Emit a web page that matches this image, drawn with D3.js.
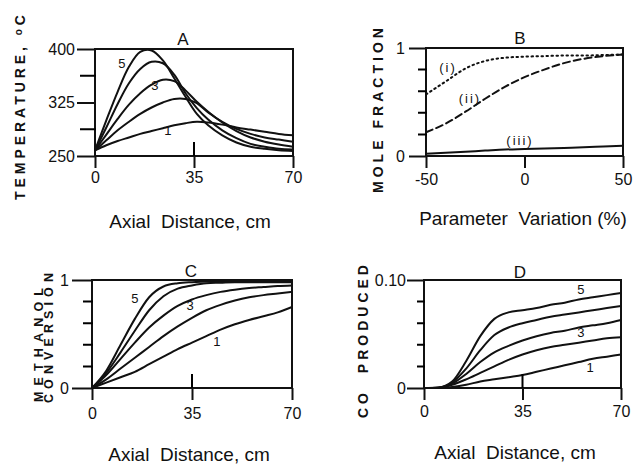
<!DOCTYPE html>
<html>
<head>
<meta charset="utf-8">
<script src="https://cdn.jsdelivr.net/npm/d3@7"></script>
<style>
  body { margin: 0; background: #fff; }
  svg { font-family: "Liberation Sans", Arial, sans-serif; }
  .curve { fill: none; stroke: #111; stroke-width: 2; }
  .frame { fill: none; stroke: #111; stroke-width: 2; }
  .tick line { stroke: #111; stroke-width: 2; }
  .minor { fill: none; stroke: #000; stroke-width: 2; }
  .tick text { font-size: 16px; fill: #111; }
  .title { font-size: 17px; fill: #111; text-anchor: middle; }
  .xlab { font-size: 19px; fill: #111; text-anchor: middle; white-space: pre; }
  .ylab { font-weight: bold; fill: #111; white-space: pre; }
  .note { font-size: 13px; fill: #111; text-anchor: middle; }
</style>
</head>
<body>
<svg id="chart" width="638" height="464"></svg>
<script>
// ---- data ----
var runLabels = ["1", "2", "3", "4", "5"];

// A: temperature vs axial distance
var distA = [0, 4, 8, 12, 16, 20, 24, 28, 32, 36, 40, 45, 50, 55, 60, 65, 70];
var tempRuns = [
  [258, 265, 271, 276, 281, 285, 289, 293, 296, 298, 297, 294, 290, 287, 284, 281, 279],
  [258, 272, 286, 298, 309, 318, 325, 330, 330, 324, 311, 298, 288, 281, 276, 273, 270],
  [258, 280, 302, 322, 338, 350, 357, 355, 342, 326, 312, 297, 285, 276, 270, 266, 263],
  [258, 290, 323, 352, 372, 382, 380, 364, 338, 317, 301, 286, 275, 267, 263, 260, 259],
  [258, 300, 340, 375, 396, 398, 384, 359, 333, 309, 293, 279, 269, 263, 260, 258, 257]
];

// B: mole fraction vs parameter variation
var varB = [-50, -40, -30, -20, -10, 0, 10, 20, 30, 40, 50];
var moleI   = [0.57, 0.69, 0.81, 0.88, 0.91, 0.92, 0.925, 0.93, 0.93, 0.935, 0.94];
var moleII  = [0.22, 0.30, 0.41, 0.53, 0.64, 0.73, 0.80, 0.86, 0.90, 0.925, 0.94];
var moleIII = [0.02, 0.03, 0.04, 0.05, 0.06, 0.065, 0.07, 0.075, 0.08, 0.088, 0.095];
var moleLabels = ["(i)", "(ii)", "(iii)"];

// C: methanol conversion, D: CO produced
var distCD = [0, 5, 10, 15, 20, 25, 30, 35, 40, 45, 50, 55, 60, 65, 70];
var convRuns = [
  [0, 0.05, 0.10, 0.15, 0.22, 0.29, 0.36, 0.42, 0.48, 0.54, 0.59, 0.63, 0.665, 0.70, 0.75],
  [0, 0.08, 0.18, 0.28, 0.38, 0.48, 0.57, 0.65, 0.72, 0.77, 0.81, 0.84, 0.86, 0.875, 0.89],
  [0, 0.12, 0.27, 0.42, 0.56, 0.67, 0.76, 0.82, 0.86, 0.89, 0.91, 0.925, 0.935, 0.945, 0.95],
  [0, 0.14, 0.33, 0.53, 0.72, 0.85, 0.92, 0.95, 0.97, 0.975, 0.98, 0.98, 0.98, 0.98, 0.98],
  [0, 0.16, 0.40, 0.64, 0.84, 0.94, 0.97, 0.98, 0.985, 0.99, 0.99, 0.99, 0.99, 0.99, 0.99]
];
var coRuns = [
  [0, 0, 0.001, 0.003, 0.006, 0.008, 0.010, 0.012, 0.015, 0.018, 0.021, 0.024, 0.027, 0.029, 0.031],
  [0, 0.0001, 0.003, 0.008, 0.014, 0.020, 0.026, 0.031, 0.035, 0.038, 0.040, 0.042, 0.044, 0.046, 0.047],
  [0, 0.0002, 0.004, 0.013, 0.024, 0.033, 0.039, 0.044, 0.048, 0.051, 0.053, 0.056, 0.058, 0.060, 0.063],
  [0, 0.0003, 0.005, 0.018, 0.035, 0.049, 0.056, 0.060, 0.063, 0.066, 0.068, 0.070, 0.072, 0.074, 0.076],
  [0, 0.0005, 0.006, 0.025, 0.048, 0.064, 0.070, 0.072, 0.074, 0.077, 0.079, 0.082, 0.084, 0.086, 0.088]
];

// ---- layout ----
var svg = d3.select("#chart");
var plain = function(d) { return String(d); };

var panels = [
  {
    title: "A", tx: 183, ty: 45,
    left: 95, right: 293, top: 49, bottom: 156,
    xDomain: [0, 70], yDomain: [250, 400],
    xTicks: [0, 35, 70], xInner: [35], xPad: 4,
    yMajor: [250, 325, 400], yMinor: [287.5, 362.5], majorLen: 18, minorLen: 15, yPad: 2,
    yFmt: plain,
    xs: distA, series: tempRuns, curve: d3.curveCatmullRom.alpha(0.5),
    notes: [[9.5, 374, "5"], [21.2, 342, "3"], [25.8, 280, "1"]],
    xlab: "Axial  Distance, cm", xlx: 190, xly: 228,
    ylab: [{ text: "TEMPERATURE, ", deg: true, x: 25, y: 200, len: 185, size: 14 }]
  },
  {
    title: "B", tx: 520, ty: 44,
    left: 426, right: 623, top: 48, bottom: 156,
    xDomain: [-50, 50], yDomain: [0, 1],
    xTicks: [-50, 0, 50], xInner: null, xPad: 6,
    yMajor: [0, 1], yMinor: [0.2, 0.4, 0.6, 0.8], majorLen: 17, minorLen: 8, yPad: 4,
    yFmt: plain,
    xs: varB, series: [moleI, moleII, moleIII], curve: d3.curveMonotoneX,
    dash: ["1.5,3.5", "7,4", null],
    notes: [[-38.8, 0.78, moleLabels[0]], [-27.7, 0.49, moleLabels[1]], [-2.3, 0.10, moleLabels[2]]],
    noteSpacing: 2,
    xlab: "Parameter  Variation (%)", xlx: 523, xly: 225,
    ylab: [{ text: "MOLE FRACTION", x: 383, y: 193, len: 165, size: 14 }]
  },
  {
    title: "C", tx: 191, ty: 277,
    left: 92, right: 292, top: 280, bottom: 388,
    xDomain: [0, 70], yDomain: [0, 1],
    xTicks: [0, 35, 70], xInner: [35], xPad: 8,
    yMajor: [0, 1], yMinor: [0.2, 0.4, 0.6, 0.8], majorLen: 20, minorLen: 9, yPad: 3,
    yFmt: plain,
    xs: distCD, series: convRuns, curve: d3.curveMonotoneX,
    notes: [[15, 0.79, runLabels[4]], [34.3, 0.72, runLabels[2]], [43.7, 0.39, runLabels[0]]],
    xlab: "Axial  Distance, cm", xlx: 189, xly: 461,
    ylab: [
      { text: "METHANOL", x: 43, y: 402, len: 114, size: 12.5 },
      { text: "CONVERSION", x: 53, y: 403, len: 130, size: 12.5 }
    ]
  },
  {
    title: "D", tx: 520, ty: 278,
    left: 424, right: 621, top: 280, bottom: 388,
    xDomain: [0, 70], yDomain: [0, 0.10],
    xTicks: [0, 35, 70], xInner: [35], xPad: 6,
    yMajor: [0, 0.10], yMinor: [0.02, 0.04, 0.06, 0.08], majorLen: 17, minorLen: 7, yPad: 1,
    yFmt: function(d) { return d === 0 ? "0" : d3.format(".2f")(d); },
    xs: distCD, series: coRuns, curve: d3.curveMonotoneX,
    notes: [[55.7, 0.087, runLabels[4]], [55.7, 0.047, runLabels[2]], [59, 0.015, runLabels[0]]],
    xlab: "Axial  Distance, cm", xlx: 515, xly: 459,
    ylab: [{ text: "CO  PRODUCED", x: 368, y: 418, len: 153, size: 14 }]
  }
];

panels.forEach(drawPanel);

function drawPanel(p) {
  var g = svg.append("g");
  var x = d3.scaleLinear().domain(p.xDomain).range([p.left, p.right]);
  var y = d3.scaleLinear().domain(p.yDomain).range([p.bottom, p.top]);

  // labeled y ticks
  g.append("g")
    .attr("transform", "translate(" + p.left + ",0)")
    .call(d3.axisLeft(y).tickValues(p.yMajor).tickSize(p.majorLen).tickPadding(p.yPad).tickFormat(p.yFmt))
    .call(function(s) { s.select(".domain").remove(); });

  // x ticks
  g.append("g")
    .attr("transform", "translate(0," + p.bottom + ")")
    .call(d3.axisBottom(x).tickValues(p.xTicks).tickSize(12).tickPadding(p.xPad).tickFormat(plain))
    .call(function(s) { s.select(".domain").remove(); });

  g.append("rect")
    .attr("class", "frame")
    .attr("x", p.left).attr("y", p.top)
    .attr("width", p.right - p.left).attr("height", p.bottom - p.top);

  var line = d3.line()
    .x(function(v, i) { return x(p.xs[i]); })
    .y(function(v) { return y(v); })
    .curve(p.curve);

  p.series.forEach(function(s, k) {
    g.append("path")
      .attr("class", "curve")
      .attr("d", line(s))
      .style("stroke-dasharray", p.dash ? p.dash[k] : null)
      .style("stroke-linecap", p.dash && p.dash[k] ? "round" : null);
  });

  p.notes.forEach(function(n) {
    g.append("text")
      .attr("class", "note")
      .attr("x", x(n[0]))
      .attr("y", y(n[1]))
      .style("letter-spacing", p.noteSpacing ? p.noteSpacing + "px" : null)
      .text(n[2]);
  });

  g.append("text")
    .attr("class", "title")
    .attr("x", p.tx).attr("y", p.ty)
    .text(p.title);

  g.append("text")
    .attr("class", "xlab")
    .attr("x", p.xlx).attr("y", p.xly)
    .text(p.xlab);

  p.ylab.forEach(function(l) {
    var t = g.append("text")
      .attr("class", "ylab")
      .attr("transform", "translate(" + l.x + "," + l.y + ") rotate(-90)")
      .attr("textLength", l.len)
      .attr("lengthAdjust", "spacing")
      .style("font-size", l.size + "px")
      .text(l.text);
    if (l.deg) {
      // small raised "o" before C, as in the original label
      t.append("tspan").attr("dy", -3).style("font-size", "10px").text("o");
      t.append("tspan").attr("dy", 3).text("C");
    }
  });

  // minor y ticks (no labels) and the inner half of the middle x tick
  var tickPath = "";
  p.yMinor.forEach(function(v) {
    tickPath += "M" + (p.left - p.minorLen) + "," + y(v) + "H" + (p.left + 1);
  });
  (p.xInner || []).forEach(function(v) {
    tickPath += "M" + x(v) + "," + (p.bottom - 14) + "V" + p.bottom;
  });
  g.append("path").attr("class", "minor").attr("d", tickPath);
}
</script>
</body>
</html>
